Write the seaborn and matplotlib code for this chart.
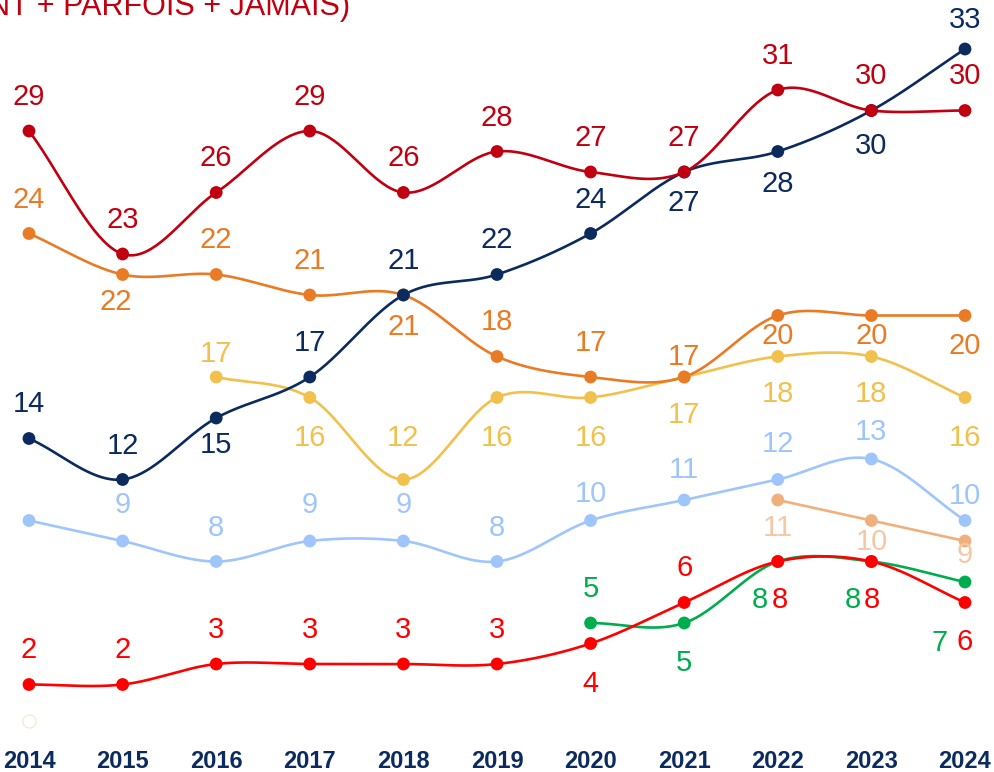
import numpy as np
import pandas as pd
import matplotlib
matplotlib.use("Agg")
import matplotlib.pyplot as plt
import seaborn as sns

years = list(range(2014, 2025))
nan = np.nan

# one list per series, 2014..2024
bleu_clair = [10, 9, 8, 9, 9, 8, 10, 11, 12, 13, 10]
peche = [nan, nan, nan, nan, nan, nan, nan, nan, 11, 10, 9]
jaune = [nan, nan, 17, 16, 12, 16, 16, 17, 18, 18, 16]
orange = [24, 22, 22, 21, 21, 18, 17, 17, 20, 20, 20]
marine = [14, 12, 15, 17, 21, 22, 24, 27, 28, 30, 33]
rouge_fonce = [29, 23, 26, 29, 26, 28, 27, 27, 31, 30, 30]
vert = [nan, nan, nan, nan, nan, nan, 5, 5, 8, 8, 7]
rouge = [2, 2, 3, 3, 3, 3, 4, 6, 8, 8, 6]
stray_point = 0.2  # faint hollow marker bottom-left

series = {
    "bleu_clair": bleu_clair,
    "peche": peche,
    "jaune": jaune,
    "orange": orange,
    "marine": marine,
    "rouge_fonce": rouge_fonce,
    "vert": vert,
    "rouge": rouge,
}

colors = {
    "bleu_clair": "#9EC5FC",
    "peche": "#F0B07E",
    "jaune": "#F2C04C",
    "orange": "#E97B25",
    "marine": "#0B2A5E",
    "rouge_fonce": "#C00010",
    "vert": "#00AD4E",
    "rouge": "#FF0000",
}
label_colors = dict(colors, peche="#F5C8A3")

# label placement: offset in pixels (dx, dy), None = no label
A, B = (0, 34), (0, -32)
placement = {
    "bleu_clair": [None, (0, 36), (0, 34), (0, 36), (0, 36), (0, 34), (0, 27), (0, 30), (0, 36), (0, 27), (0, 25)],
    "peche": [None] * 8 + [(0, -28), (0, -21), (0, -14)],
    "jaune": [None, None, (0, 23), (0, -41), (0, 41), (0, -41), (0, -41), (0, -38), (0, -38), (0, -38), (0, -41)],
    "orange": [A, (-7, -27), A, A, B, A, A, (0, 20), (0, -21), (0, -21), (0, -30)],
    "marine": [A, A, (0, -27), A, A, A, A, (0, -31), B, (0, -35), (0, 29)],
    "rouge_fonce": [A] * 11,
    "vert": [None] * 6 + [(0, 34), (0, -40), (-18, -39), (-19, -39), (-25, -61)],
    "rouge": [A, A, A, A, A, A, (0, -41), A, (2, -39), (0, -39), (0, -40)],
}


def smooth(xs, ys, n=40):
    # cubic Hermite with Catmull-Rom tangents (like a spreadsheet "smooth line")
    xs = np.asarray(xs, float)
    ys = np.asarray(ys, float)
    m = np.zeros_like(ys)
    if len(ys) > 1:
        m[0] = ys[1] - ys[0]
        m[-1] = ys[-1] - ys[-2]
        m[1:-1] = (ys[2:] - ys[:-2]) / 2
    out_x, out_y = [], []
    for i in range(len(xs) - 1):
        t = np.linspace(0, 1, n)
        h00 = 2 * t**3 - 3 * t**2 + 1
        h10 = t**3 - 2 * t**2 + t
        h01 = -2 * t**3 + 3 * t**2
        h11 = t**3 - t**2
        out_x.extend(xs[i] + t * (xs[i + 1] - xs[i]))
        out_y.extend(h00 * ys[i] + h10 * m[i] + h01 * ys[i + 1] + h11 * m[i + 1])
    return out_x, out_y


pts = []
curves = []
for name, vals in series.items():
    df = pd.DataFrame({"year": years, "value": vals}).dropna()
    df["serie"] = name
    pts.append(df)
    cx, cy = smooth(df["year"], df["value"])
    curves.append(pd.DataFrame({"year": cx, "value": cy, "serie": name}))
pts = pd.concat(pts, ignore_index=True)
curves = pd.concat(curves, ignore_index=True)

sns.set_style("white")
plt.rcParams["font.family"] = ["Liberation Sans", "DejaVu Sans"]

fig = plt.figure(figsize=(9.95, 7.72), dpi=100)
ax = fig.add_axes([0, 35 / 772, 1, 1 - 35 / 772])

order = list(series.keys())
for name in order:
    sns.lineplot(data=curves[curves["serie"] == name], x="year", y="value",
                 color=colors[name], linewidth=1.9, sort=False,
                 estimator=None, ax=ax, legend=False)
    sns.scatterplot(data=pts[pts["serie"] == name], x="year", y="value",
                    color=colors[name], s=85, edgecolor="none", ax=ax,
                    legend=False, zorder=5)

ax.scatter([years[0]], [stray_point], s=90, facecolor="white",
           edgecolor="#FBE3C6", linewidth=0.8, zorder=4)

for name in order:
    for yr, v, off in zip(years, series[name], placement[name]):
        if off is None or np.isnan(v):
            continue
        ax.annotate(f"{v:g}", (yr, v), xytext=off, textcoords="offset pixels",
                    ha="center", va="center", fontsize=21,
                    color=label_colors[name], zorder=6)

ax.set_xlim(2014 - 29 / 93.6, 2024 + 30 / 93.6)
ax.set_ylim(29 - (737 - 131) / 20.5, 29 + 131 / 20.5)
ax.set_xticks(years)
ax.set_xticklabels([str(y) for y in years], fontsize=17, fontweight="bold",
                   color="#0B2A5E")
ax.tick_params(axis="x", length=0, pad=9)
ax.set_yticks([])
ax.set_xlabel("")
ax.set_ylabel("")
for s in ax.spines.values():
    s.set_visible(False)

# title sits partly above the canvas, as in the source image
fig.text(350 / 995, 1 - 15 / 772, "(SOUVENT + PARFOIS + JAMAIS)",
         ha="right", va="baseline", fontsize=22, color="#C00010")

fig.savefig("out.png", dpi=100)
